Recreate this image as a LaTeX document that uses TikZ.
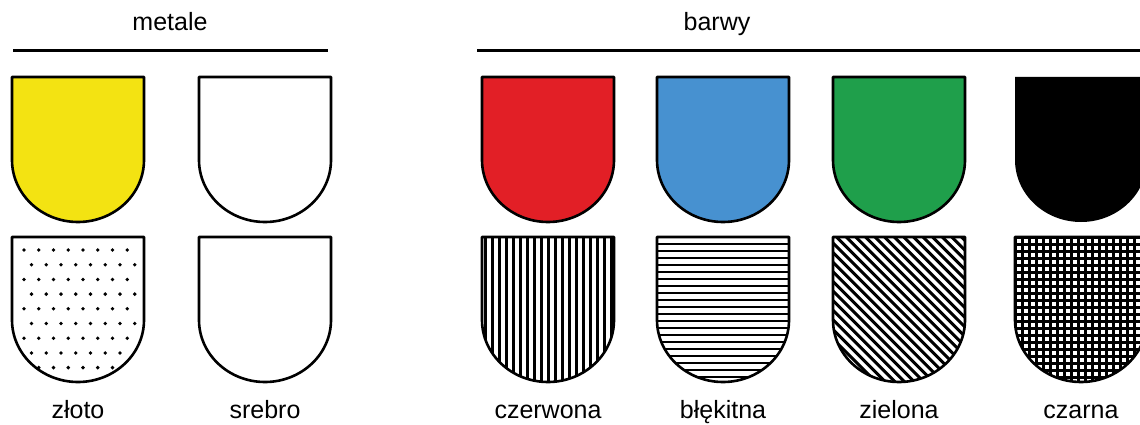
\documentclass[tikz,border=0pt]{standalone}
\usepackage{fontspec}
\setmainfont{Liberation Sans}
\definecolor{zloto}{HTML}{F3E312}
\definecolor{czerw}{HTML}{E21F26}
\definecolor{blek}{HTML}{4791D0}
\definecolor{ziel}{HTML}{1F9F4B}
\newcommand\shld[2]{(#1,#2) -- ++(132,0) -- ++(0,83) .. controls +(0,34.2) and +(36.4,0) .. ++(-66,62) .. controls +(-36.4,0) and +(0,34.2) .. ++(-66,-62) -- cycle}
\tikzset{
  outline/.style={draw=black, line width=2.6pt, line join=round},
  hatch/.style={line width=2.8pt, black},
  lbl/.style={anchor=base, font=\fontsize{25}{29}\selectfont, inner sep=0pt},
  rule/.style={line width=3pt, black}
}
\begin{document}
\begin{tikzpicture}[x=1pt,y=-1pt]
\useasboundingbox (0,0) rectangle (1140,425);
\clip (0,0) rectangle (1140,425);
% headers
\node[lbl] (hmet) at (170,31) {metale};
\node[lbl] (hbar) at (717,31) {barwy};
\coordinate (m1) at (13,51); \coordinate (m2) at (328,51);
\coordinate (b1) at (477,51); \coordinate (b2) at (1140,51);
\draw[rule] (m1) -- (m2);
\draw[rule] (b1) -- (b2);
% row 1: colours
\fill[zloto] \shld{12}{77};  \draw[outline] \shld{12}{77};
\draw[outline] \shld{199}{77};
\fill[czerw] \shld{482}{77}; \draw[outline] \shld{482}{77};
\fill[blek] \shld{657}{77};  \draw[outline] \shld{657}{77};
\fill[ziel] \shld{833}{77};  \draw[outline] \shld{833}{77};
\fill[black] \shld{1015}{77};
% row 2: hatchings
\begin{scope}
  \clip \shld{12}{237};
  \foreach \r in {0,...,8} {
    \pgfmathsetmacro\yy{250+14.7*\r}
    \pgfmathsetmacro\xo{ifthenelse(mod(\r,2)==0,24,31.5)}
    \foreach \c in {0,...,7} {
      \fill (\xo+14.75*\c,\yy) circle[radius=1.9pt];
    }
  }
\end{scope}
\draw[outline] \shld{12}{237};
\draw[outline] \shld{199}{237};
\begin{scope}
  \clip \shld{482}{237};
  \foreach \i in {0,...,18} { \draw[hatch] (485.5+7*\i,230) -- ++(0,160); }
\end{scope}
\draw[outline] \shld{482}{237};
\begin{scope}
  \clip \shld{657}{237};
  \foreach \i in {1,...,21} { \draw[hatch,line width=2.6pt] (650,237+7*\i) -- ++(150,0); }
\end{scope}
\draw[outline] \shld{657}{237};
\begin{scope}
  \clip \shld{833}{237};
  \foreach \i in {0,...,34} { \draw[hatch,line width=3pt] (833-150+9.6*\i,237) -- ++(165,165); }
\end{scope}
\draw[outline] \shld{833}{237};
\begin{scope}
  \clip \shld{1015}{237};
  \foreach \i in {0,...,19} { \draw[hatch,line width=3pt] (1015+7*\i,230) -- ++(0,160); }
  \foreach \i in {0,...,21} { \draw[hatch,line width=3pt] (1010,237+7*\i) -- ++(150,0); }
\end{scope}
\draw[outline] \shld{1015}{237};
% labels
\node[lbl] (l1) at (78,418) {złoto};
\node[lbl] (l2) at (265,418) {srebro};
\node[lbl] (l3) at (548,418) {czerwona};
\node[lbl] (l4) at (723,418) {błękitna};
\node[lbl] (l5) at (899,418) {zielona};
\node[lbl] (l6) at (1081,418) {czarna};
\end{tikzpicture}
\end{document}
